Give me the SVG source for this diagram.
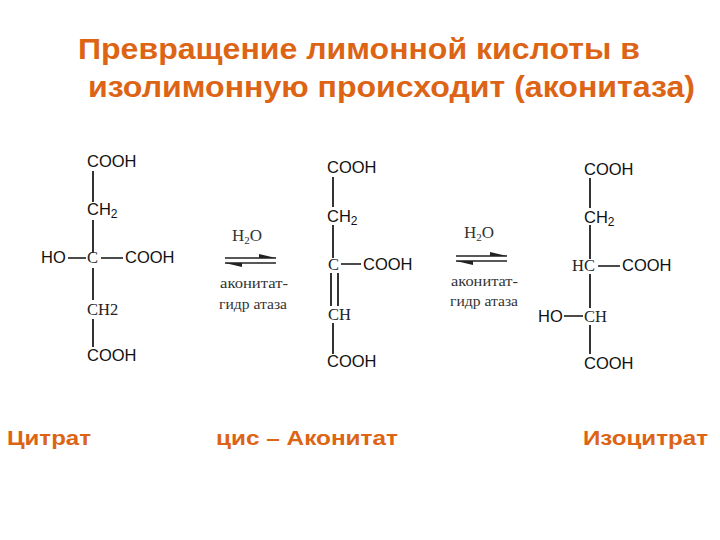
<svg xmlns="http://www.w3.org/2000/svg" width="720" height="540" viewBox="0 0 720 540">
<style>
.t{font-family:"Liberation Sans",Arial,sans-serif;font-size:29px;font-weight:700;fill:#dc6414}
.l{font-family:"Liberation Sans",Arial,sans-serif;font-size:21px;font-weight:700;fill:#dc6414}
.a{font-family:"Liberation Sans",Arial,sans-serif;font-size:16.5px;fill:#111}
.s{font-family:"Liberation Serif","Times New Roman",serif;font-size:16.5px;fill:#222}
.w{font-family:"Liberation Serif","Times New Roman",serif;font-size:17px;fill:#333}
.e{font-family:"Liberation Serif","Times New Roman",serif;font-size:15px;fill:#333}
.b{stroke:#111;stroke-width:1.7;fill:none}
.r{stroke:#222;stroke-width:1.7;fill:none}
.h{fill:#222}
</style>
<rect width="720" height="540" fill="#fff"/>
<g id="title">
<text class="t" x="78" y="59" textLength="562" lengthAdjust="spacingAndGlyphs">Превращение лимонной кислоты в</text>
<text class="t" x="88" y="97" textLength="607" lengthAdjust="spacingAndGlyphs">изолимонную происходит (аконитаза)</text>
</g>
<g id="connectors">
<path class="b" d="M93 171V202M93 220V253M93 268V300M93 319V347M68 258H86M101 258H123"/>
<path class="b" d="M333 177V207M333 225V258M341 264H361M331 273V306M338 273V306M333 323V354"/>
<path class="b" d="M590 178V208M590 225V259M590 274V308M590 325V354M598 266H620M564 316H583"/>
<path class="r" d="M225 258H276M225 263H276"/>
<path class="h" d="M259 254L276 258H259ZM242 267L225 263H242Z"/>
<path class="r" d="M456 256H507M456 261H507"/>
<path class="h" d="M490 252L507 256H490ZM473 265L456 261H473Z"/>
</g>
<g id="citrate">
<text class="a" x="87" y="167">COOH</text>
<text class="a" x="87" y="215">CH<tspan font-size="12" dy="3">2</tspan></text>
<text class="a" x="41" y="263">HO</text>
<text class="s" x="87" y="263">C</text>
<text class="a" x="125" y="263">COOH</text>
<text class="s" x="87" y="315">CH2</text>
<text class="a" x="87" y="361">COOH</text>
<text class="l" x="7" y="445" textLength="84" lengthAdjust="spacingAndGlyphs">Цитрат</text>
</g>
<g id="enzyme1">
<text class="w" x="232" y="241">H<tspan font-size="11" dy="3">2</tspan><tspan dy="-3">O</tspan></text>
<text class="e" x="220" y="288" textLength="68" lengthAdjust="spacingAndGlyphs">аконитат-</text>
<text class="e" x="219" y="309" textLength="68" lengthAdjust="spacingAndGlyphs">гидр атаза</text>
</g>
<g id="aconitate">
<text class="a" x="327" y="173">COOH</text>
<text class="a" x="327" y="222">CH<tspan font-size="12" dy="3">2</tspan></text>
<text class="s" x="328" y="270">C</text>
<text class="a" x="363" y="270">COOH</text>
<text class="s" x="328" y="320">CH</text>
<text class="a" x="327" y="367">COOH</text>
<text class="l" x="216" y="445" textLength="182" lengthAdjust="spacingAndGlyphs">цис – Аконитат</text>
</g>
<g id="enzyme2">
<text class="w" x="464" y="238">H<tspan font-size="11" dy="3">2</tspan><tspan dy="-3">O</tspan></text>
<text class="e" x="451" y="286" textLength="67" lengthAdjust="spacingAndGlyphs">аконитат-</text>
<text class="e" x="450" y="306" textLength="68" lengthAdjust="spacingAndGlyphs">гидр атаза</text>
</g>
<g id="isocitrate">
<text class="a" x="584" y="175">COOH</text>
<text class="a" x="584" y="223">CH<tspan font-size="12" dy="3">2</tspan></text>
<text class="s" x="572" y="271">HC</text>
<text class="a" x="622" y="271">COOH</text>
<text class="a" x="538" y="322">HO</text>
<text class="s" x="584" y="322">CH</text>
<text class="a" x="584" y="369">COOH</text>
<text class="l" x="583" y="445" textLength="125" lengthAdjust="spacingAndGlyphs">Изоцитрат</text>
</g>
</svg>
